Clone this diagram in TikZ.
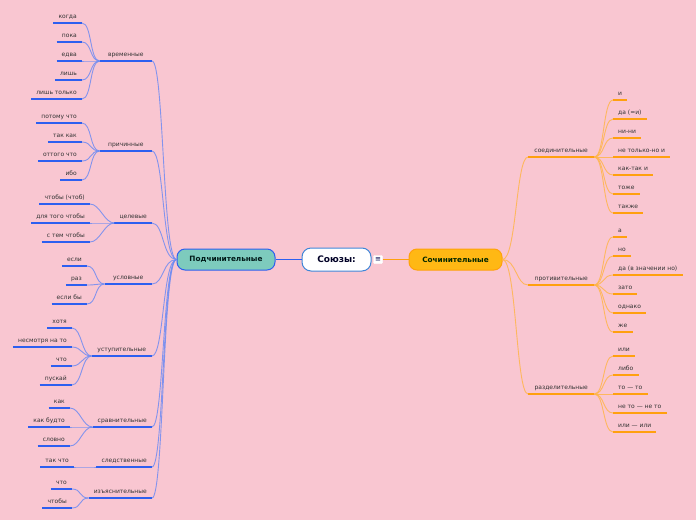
\documentclass[tikz,border=0pt]{standalone}
\usepackage{fontspec}
\setmainfont{DejaVu Sans}
\definecolor{bg}{HTML}{F9C6D1}
\definecolor{bline}{HTML}{2D5FF0}
\definecolor{bcon}{HTML}{6F8BF2}
\definecolor{oline}{HTML}{FFA00F}
\definecolor{ocon}{HTML}{FFB54A}
\definecolor{txt}{HTML}{333333}
\definecolor{tealf}{HTML}{7DCBBD}
\definecolor{orangef}{HTML}{FFB814}
\definecolor{oborder}{HTML}{FFA20A}
\definecolor{rootb}{HTML}{3F86D8}
\begin{document}
\begin{tikzpicture}[x=1pt,y=-1pt,
  leaf/.style={font=\fontsize{6}{7}\selectfont, text=txt, inner xsep=5pt, inner ysep=4.5pt, text height=4.5pt, text depth=0pt},
  lleaf/.style={leaf, anchor=south east},
  rleaf/.style={leaf, anchor=south west},
  lbranch/.style={leaf, anchor=south east, minimum width=#1},
  rbranch/.style={leaf, anchor=south west, minimum width=66pt},
  bul/.style={draw=bline, line width=1.6pt},
  oul/.style={draw=oline, line width=1.6pt},
  bconn/.style={draw=bcon, line width=0.9pt, opacity=0.85},
  oconn/.style={draw=ocon, line width=0.9pt, opacity=0.85},
  mainnode/.style={rounded corners=8pt, line width=1pt, minimum height=21pt, inner sep=0pt, font=\fontsize{7.3}{8}\bfseries\selectfont}
]
\fill[bg] (0,0) rectangle (696,520);
\useasboundingbox (0,0) rectangle (696,520);

% main nodes
\node[mainnode, fill=tealf, draw=bline, minimum width=98pt, text=black!80!teal] (pod) at (226,259.5) {Подчинительные};
\node[mainnode, fill=white, draw=rootb, minimum width=69pt, minimum height=23pt, rounded corners=9pt, font=\fontsize{9}{10}\bfseries\selectfont, text=black!85!blue] (root) at (336.5,259.5) {Союзы:};
\node[draw=white, fill=white, rounded corners=1pt, minimum width=9pt, minimum height=8pt, inner sep=0pt, text=black!70!blue, font=\fontsize{7}{7}\selectfont] (ic) at (378,259.5) {≡};
\node[mainnode, fill=orangef, draw=oborder, minimum width=93pt, text=black!85!green] (soch) at (455.5,259.5) {Сочинительные};

\draw[draw=bline, line width=0.9pt] (pod.east) -- (root.west);
\draw[draw=oline, line width=0.9pt] (ic.east) -- (soch.west);

% left branches
\foreach \n/\x/\y/\w/\t in {B1/152/61/52/временные, B2/152/151/52/причинные, B3/152/223/37/целевые, B4/152/284/47/условные, B5/152/356/60/уступительные, B6/152/427/57/сравнительные, B7/152/467/52/следственные, B8/152/498/60/изъяснительные}{
  \node[lbranch=\w pt] (\n) at (\x,\y) {\t};
  \draw[bul] (\n.south west) -- (\n.south east);
  \draw[bconn] (\n.south east) .. controls +(12,0) and +(-14,0) .. (pod.west);
}

% left leaves
\foreach \n/\b/\x/\y/\t in {v1/B1/82/23/когда, v2/B1/82/42/пока, v3/B1/82/61/едва, v4/B1/82/80/лишь, v5/B1/82/99/лишь только,
  p1/B2/82/123/потому что, p2/B2/82/142/так как, p3/B2/82/161/оттого что, p4/B2/82/180/ибо,
  c1/B3/90/204/чтобы (чтоб), c2/B3/90/223/для того чтобы, c3/B3/90/242/с тем чтобы,
  u1/B4/87/266/если, u2/B4/87/285/раз, u3/B4/87/304/если бы,
  s1/B5/72/328/хотя, s2/B5/72/347/несмотря на то, s3/B5/72/366/что, s4/B5/72/385/пускай,
  r1/B6/70/408/как, r2/B6/70/427/как будто, r3/B6/70/446/словно,
  f1/B7/74/467/так что,
  i1/B8/72/489/что, i2/B8/72/508/чтобы}{
  \node[lleaf] (\n) at (\x,\y) {\t};
  \draw[bul] (\n.south west) -- (\n.south east);
  \draw[bconn] (\n.south east) .. controls +(10,0) and +(-10,0) .. (\b.south west);
}

% right branches
\foreach \n/\y/\t in {R1/157/соединительные, R2/285/противительные, R3/394/разделительные}{
  \node[rbranch] (\n) at (528,\y) {\t};
  \draw[oul] (\n.south west) -- (\n.south east);
  \draw[oconn] (soch.east) .. controls +(14,0) and +(-12,0) .. (\n.south west);
}

% right leaves
\foreach \n/\b/\y/\t in {a1/R1/100/и, a2/R1/119/да (=и), a3/R1/138/ни-ни, a4/R1/157/не только-но и, a5/R1/175/как-так и, a6/R1/194/тоже, a7/R1/213/также,
  b1/R2/237/а, b2/R2/256/но, b3/R2/275/да (в значении но), b4/R2/294/зато, b5/R2/313/однако, b6/R2/332/же,
  d1/R3/356/или, d2/R3/375/либо, d3/R3/394/то — то, d4/R3/413/не то — не то, d5/R3/432/или — или}{
  \node[rleaf] (\n) at (613,\y) {\t};
  \draw[oul] (\n.south west) -- (\n.south east);
  \draw[oconn] (\b.south east) .. controls +(10,0) and +(-10,0) .. (\n.south west);
}
\end{tikzpicture}
\end{document}
